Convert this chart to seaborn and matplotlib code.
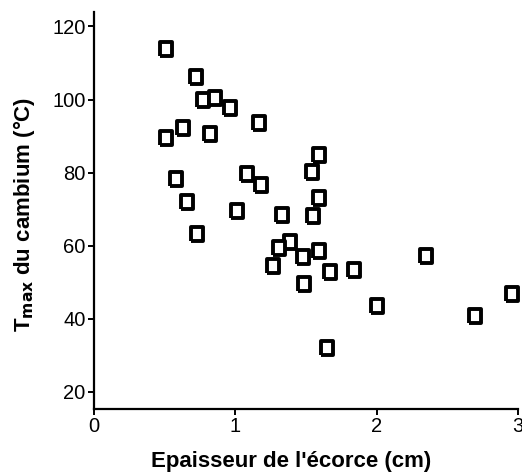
import numpy as np
import pandas as pd
import seaborn as sns
import matplotlib
matplotlib.use("Agg")
import matplotlib.pyplot as plt

# Epaisseur de l'écorce (cm) et Tmax du cambium (°C)
epaisseur = [0.51, 0.72, 0.77, 0.86, 0.96, 1.17, 0.63, 0.51, 0.82, 0.58,
             0.66, 0.73, 1.08, 1.18, 1.01, 1.59, 1.54, 1.59, 1.33, 1.55,
             1.39, 1.31, 1.48, 1.59, 1.27, 1.67, 1.84, 1.49, 2.00, 1.65,
             2.35, 2.96, 2.70]
tmax = [113.9, 106.1, 99.8, 100.5, 97.6, 93.6, 92.1, 89.5, 90.7, 78.4,
        72.1, 63.3, 79.5, 76.5, 69.4, 84.7, 80.1, 73.2, 68.4, 68.2,
        61.1, 59.5, 56.9, 58.6, 54.5, 52.8, 53.5, 49.5, 43.4, 32.0,
        57.1, 46.9, 40.9]

x_ticks = [0, 1, 2, 3]
y_ticks = [20, 40, 60, 80, 100, 120]

df = pd.DataFrame({"epaisseur": epaisseur, "tmax": tmax})

sns.set_style("ticks")
plt.rcParams["font.family"] = ["Liberation Sans", "DejaVu Sans"]
plt.rcParams["text.color"] = "black"
plt.rcParams["axes.labelcolor"] = "black"

fig = plt.figure(figsize=(5.22, 4.73), dpi=100)
ax = fig.add_axes([0.180, 0.135, 0.812, 0.840])

# carré ouvert un peu plus haut que large
rect = [(-0.40, -0.5), (0.40, -0.5), (0.40, 0.5), (-0.40, 0.5), (-0.40, -0.5)]
sns.scatterplot(data=df, x="epaisseur", y="tmax", ax=ax, marker=rect,
                s=100, facecolor="white", edgecolor="black", linewidth=2.8,
                zorder=3, clip_on=False)

ax.set_xlim(0, 3)
ax.set_ylim(15.3, 124)
ax.set_xticks(x_ticks)
ax.set_yticks(y_ticks)
ax.tick_params(axis="both", direction="out", length=4, width=1.4,
               labelsize=14.5, colors="black", pad=2)

for side in ["top", "right"]:
    ax.spines[side].set_visible(False)
for side in ["left", "bottom"]:
    ax.spines[side].set_linewidth(1.6)
    ax.spines[side].set_color("black")

ax.set_xlabel("Epaisseur de l'écorce (cm)", fontsize=16, fontweight="bold",
              color="black")
ax.set_ylabel(r"T$_{\mathbf{max}}$ du cambium (°C)", fontsize=16,
              fontweight="bold", color="black")
ax.xaxis.set_label_coords(0.466, -0.105)
ax.yaxis.set_label_coords(-0.135, 0.49)

fig.savefig("out.png", dpi=100)
